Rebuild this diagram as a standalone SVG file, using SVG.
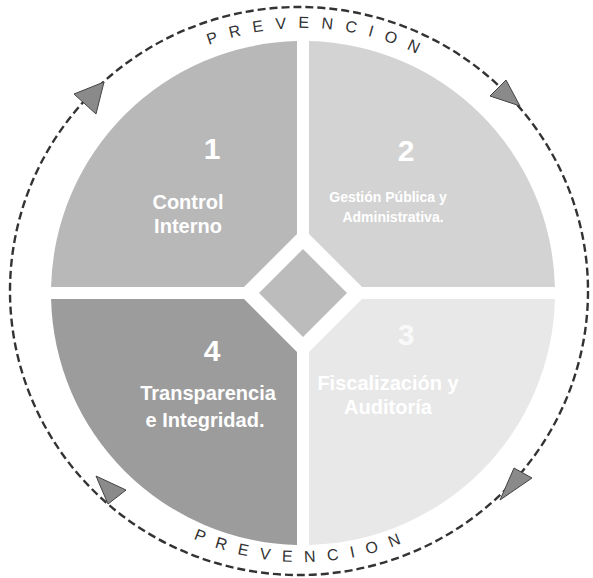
<svg xmlns="http://www.w3.org/2000/svg" width="593" height="578" viewBox="0 0 593 578">
<style>
.num{font-family:"Liberation Sans",Arial,sans-serif;font-weight:bold;font-size:30px;fill:#fff;text-anchor:middle}
.lbl{font-family:"Liberation Sans",Arial,sans-serif;font-weight:bold;font-size:20px;fill:#fff;text-anchor:middle}
.sm{font-family:"Liberation Sans",Arial,sans-serif;font-weight:bold;font-size:14px;fill:#fff;text-anchor:middle}
.arc{font-family:"Liberation Sans",Arial,sans-serif;font-size:16px;fill:#333;letter-spacing:12px}
.ring{fill:none;stroke:#333;stroke-width:2.4;stroke-dasharray:8 4}
.ah{fill:#8a8a8a;stroke:#444;stroke-width:1}
</style>
<defs>
<path id="topArc" d="M 38,293 A 265 265 0 0 1 568,293"/>
<path id="botArc" d="M 34,293 A 269 269 0 0 0 572,293"/>
</defs>
<rect width="593" height="578" fill="#fff"/>
<g id="connectors">
<ellipse class="ring" cx="299" cy="291" rx="289" ry="284"/>
<path class="ah" d="M 74,94 L 104,82 L 96,114 Z"/>
<path class="ah" d="M 520,106 L 490,96 L 506,80 Z"/>
<path class="ah" d="M 500,500 L 532,478 L 514,468 Z"/>
<path class="ah" d="M 96,476 L 126,490 L 108,504 Z"/>
</g>
<g id="q1">
<path d="M 297,234 L 297,41.07 A 252 252 0 0 0 51.07,287 L 244,287 Z" fill="#b8b8b8"/>
<text class="num" x="212" y="159">1</text>
<text class="lbl" x="188" y="209">Control</text>
<text class="lbl" x="188" y="233">Interno</text>
</g>
<g id="q2">
<path d="M 309,234 L 309,41.07 A 252 252 0 0 1 554.93,287 L 362,287 Z" fill="#d3d3d3"/>
<text class="num" x="406" y="161">2</text>
<text class="sm" x="388" y="202">Gestión Pública y</text>
<text class="sm" x="393" y="222">Administrativa.</text>
</g>
<g id="q3">
<path d="M 309,352 L 309,544.93 A 252 252 0 0 0 554.93,299 L 362,299 Z" fill="#e8e8e8"/>
<text class="num" x="406" y="345" fill-opacity="0.8">3</text>
<text class="lbl" x="388" y="390">Fiscalización y</text>
<text class="lbl" x="388" y="414">Auditoría</text>
</g>
<g id="q4">
<path d="M 297,352 L 297,544.93 A 252 252 0 0 1 51.07,299 L 244,299 Z" fill="#9c9c9c"/>
<text class="num" x="212" y="361">4</text>
<text class="lbl" x="208" y="400">Transparencia</text>
<text class="lbl" x="205" y="427">e Integridad.</text>
</g>
<g id="center">
<path d="M 303,249 L 347,293 L 303,337 L 259,293 Z" fill="#bcbcbc"/>
</g>
<g id="labels">
<text class="arc"><textPath href="#topArc" startOffset="52%" text-anchor="middle">PREVENCION</textPath></text>
<text class="arc"><textPath href="#botArc" startOffset="50%" text-anchor="middle">PREVENCION</textPath></text>
</g>
</svg>
